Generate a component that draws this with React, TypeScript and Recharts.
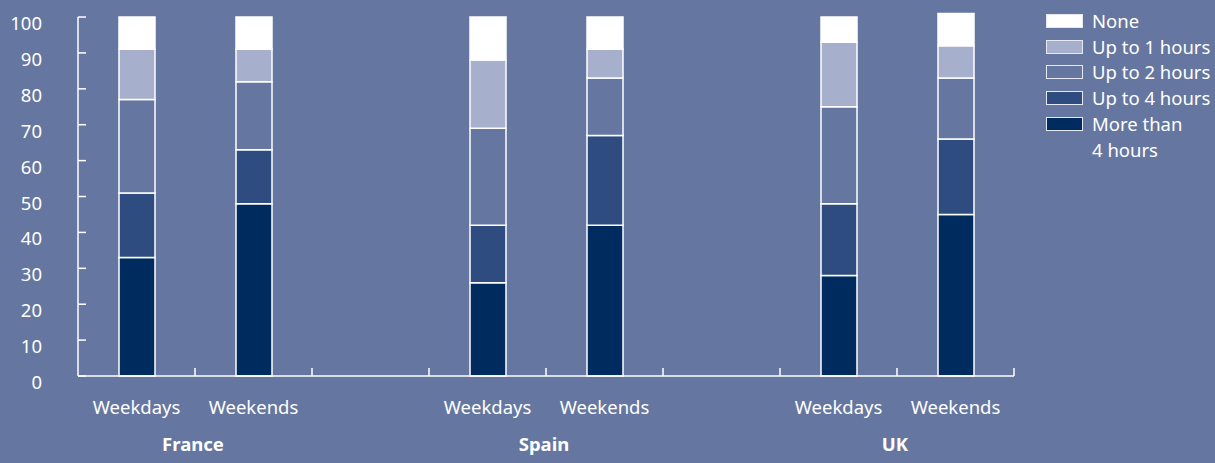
import { BarChart, Bar, XAxis, YAxis, Legend } from 'recharts';

const periods = ['Weekdays', 'Weekends', '', 'Weekdays', 'Weekends', '', 'Weekdays', 'Weekends'];
const countries = ['France', '', '', 'Spain', '', '', 'UK', ''];

const moreThan4 = [33, 48, null, 26, 42, null, 28, 45];
const upTo4 = [18, 15, null, 16, 25, null, 20, 21];
const upTo2 = [26, 19, null, 27, 16, null, 27, 17];
const upTo1 = [14, 9, null, 19, 8, null, 18, 9];
const none = [9, 9, null, 12, 9, null, 7, 9];

const yTicks = [0, 10, 20, 30, 40, 50, 60, 70, 80, 90, 100];

const BG = '#6577a0';
const FONT = '"Noto Sans", sans-serif';

const series = [
  { key: 'more4', name: 'More than\n4 hours', values: moreThan4, color: '#002b5e' },
  { key: 'up4', name: 'Up to 4 hours', values: upTo4, color: '#2e4c7f' },
  { key: 'up2', name: 'Up to 2 hours', values: upTo2, color: BG },
  { key: 'up1', name: 'Up to 1 hours', values: upTo1, color: '#a6afcb' },
  { key: 'none', name: 'None', values: none, color: '#ffffff' },
];

const data = periods.map((p, i) => {
  const row: Record<string, any> = { id: i, period: p };
  series.forEach((s) => (row[s.key] = s.values[i]));
  return row;
});

// layout
const W = 1215;
const H = 463;
const M = { top: 12, right: 201, bottom: 0, left: 0 };
const Y_AXIS_W = 78;
const X_AXIS_H = 87;
const Y_MAX = 101.4;
const PLOT_W = W - M.left - M.right - Y_AXIS_W;
const PLOT_H = H - M.top - M.bottom - X_AXIS_H;
const HALF_SLOT = PLOT_W / periods.length / 2;

const XTick = (props: any) => {
  const { x, y, payload } = props;
  const i = props.index ?? payload.index;
  return (
    <g>
      <line x1={x + HALF_SLOT} x2={x + HALF_SLOT} y1={y} y2={y - 8} stroke="#fff" strokeWidth={1.5} />
      <text x={x} y={y + 38} textAnchor="middle" fill="#fff" fontSize={18.5} fontFamily={FONT}>
        {periods[i]}
      </text>
      {countries[i] && (
        <text x={x + HALF_SLOT - 2} y={y + 75} textAnchor="middle" fill="#fff" fontSize={18.5} fontWeight="bold" fontFamily={FONT}>
          {countries[i]}
        </text>
      )}
    </g>
  );
};

const YTick = (props: any) => {
  const { x, y, payload } = props;
  return (
    <g>
      {payload.value === 0 && (
        <line x1={x} x2={x} y1={y} y2={y - (100 * PLOT_H) / Y_MAX} stroke="#fff" strokeWidth={1.5} />
      )}
      <line x1={x} x2={x + 8} y1={y} y2={y} stroke="#fff" strokeWidth={1.5} />
      <text x={x - 36} y={y + 13} textAnchor="end" fill="#fff" fontSize={18.5} fontFamily={FONT}>
        {payload.value}
      </text>
    </g>
  );
};

const LegendBox = () => (
  <div style={{ fontFamily: FONT, fontSize: 18.5, color: '#fff', lineHeight: '25.7px' }}>
    {[...series].reverse().map((s) => (
      <div key={s.key} style={{ display: 'flex', alignItems: 'flex-start' }}>
        <div
          style={{
            width: 35,
            height: 12,
            marginTop: 6,
            marginRight: 9,
            background: s.color,
            border: '1px solid #e6e9f2',
            flexShrink: 0,
          }}
        />
        <div style={{ whiteSpace: 'pre-line' }}>{s.name}</div>
      </div>
    ))}
  </div>
);

export default function App() {
  return (
    <div style={{ position: 'absolute', left: 0, top: 0, width: W, height: H, background: BG }}>
      <BarChart width={W} height={H} data={data} margin={M} barSize={36}>
        <XAxis
          dataKey="id"
          interval={0}
          height={X_AXIS_H}
          tickLine={false}
          tickSize={0}
          tickMargin={0}
          axisLine={{ stroke: '#fff', strokeWidth: 1.5 }}
          tick={<XTick />}
        />
        <YAxis
          type="number"
          domain={[0, Y_MAX]}
          ticks={yTicks}
          width={Y_AXIS_W}
          tickLine={false}
          tickSize={0}
          tickMargin={0}
          axisLine={false}
          tick={<YTick />}
        />
        <Legend
          layout="vertical"
          align="center"
          verticalAlign="middle"
          content={<LegendBox />}
          wrapperStyle={{ left: 1046, top: 8, width: 170 }}
        />
        {series.map((s) => (
          <Bar
            key={s.key}
            dataKey={s.key}
            name={s.name}
            stackId="a"
            fill={s.color}
            stroke="#fff"
            strokeWidth={1.5}
            isAnimationActive={false}
          />
        ))}
      </BarChart>
    </div>
  );
}
